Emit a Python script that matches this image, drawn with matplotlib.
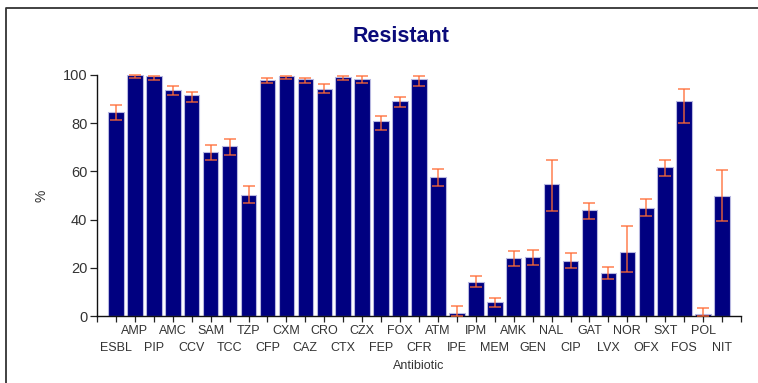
import matplotlib
matplotlib.use('Agg')
import matplotlib.pyplot as plt
from matplotlib.lines import Line2D
import matplotlib.transforms as mtransforms
import numpy as np

plt.rcParams['font.family'] = ['Liberation Sans Narrow', 'Liberation Sans', 'DejaVu Sans']

antibiotics = ['ESBL', 'AMP', 'PIP', 'AMC', 'CCV', 'SAM', 'TCC', 'TZP', 'CFP',
               'CXM', 'CAZ', 'CRO', 'CTX', 'CZX', 'FEP', 'FOX', 'CFR', 'ATM',
               'IPE', 'IPM', 'MEM', 'AMK', 'GEN', 'NAL', 'CIP', 'GAT', 'LVX',
               'NOR', 'OFX', 'SXT', 'FOS', 'POL', 'NIT']
resistant = [84.8, 99.9, 99.4, 93.6, 91.6, 68.2, 70.4, 50.3, 97.9,
             99.4, 98.5, 94.2, 99.0, 98.5, 80.8, 89.1, 98.5, 57.5,
             1.1, 14.1, 5.7, 23.9, 24.3, 54.6, 23.0, 43.8, 17.7,
             26.7, 44.8, 61.7, 89.1, 0.8, 49.9]
ci_low = [81.3, 98.6, 97.8, 91.7, 88.8, 64.6, 66.9, 46.9, 96.8,
          98.3, 96.8, 92.5, 97.8, 96.8, 77.2, 86.6, 95.4, 53.9,
          0.0, 11.9, 3.9, 20.7, 21.3, 43.7, 19.9, 40.4, 15.2,
          18.1, 41.4, 58.1, 79.9, 0.0, 39.4]
ci_high = [87.5, 99.9, 99.7, 95.6, 93.1, 71.1, 73.6, 53.9, 98.8,
           99.7, 98.9, 96.1, 99.4, 99.4, 83.0, 90.9, 99.4, 61.1,
           4.0, 16.7, 7.3, 27.0, 27.4, 64.7, 26.0, 47.0, 20.5,
           37.2, 48.4, 64.7, 94.1, 3.2, 60.4]

W, H = 758, 383
fig = plt.figure(figsize=(W / 100, H / 100), dpi=100)
ax = fig.add_axes([97 / W, 1 - 316 / H, (741 - 97) / W, (316 - 75) / H])

x = np.arange(len(antibiotics))
vals = np.array(resistant)
err = [vals - np.array(ci_low), np.array(ci_high) - vals]

ax.bar(x, vals, width=0.82, color='#000080', edgecolor='#b8b8e0',
       linewidth=0.8, zorder=2)
ax.errorbar(x, vals, yerr=err, fmt='none', ecolor='#ff6a33', alpha=0.85,
            elinewidth=1.1, capsize=4, capthick=1.1, zorder=3, clip_on=False)

ax.set_xlim(-1, 33)
ax.set_ylim(0, 100)
ax.set_xticks(np.arange(-1, 34))
ax.set_xticklabels([])
ax.set_yticks([0, 20, 40, 60, 80, 100])
ax.tick_params(axis='x', direction='out', length=4, width=0.9, color='#222222')
ax.tick_params(axis='y', direction='out', length=5, width=0.9, color='#222222',
               labelsize=10.5, labelcolor='#333333', pad=2)
for s in ['top', 'right']:
    ax.spines[s].set_visible(False)
for s in ['left', 'bottom']:
    ax.spines[s].set_color('#111111')
    ax.spines[s].set_linewidth(1.0)

# staggered category labels
trans = mtransforms.blended_transform_factory(ax.transData, ax.transAxes)
for i, name in enumerate(antibiotics):
    yoff = -32 if i % 2 == 0 else -15
    ax.annotate(name, xy=(i, 0), xycoords=trans, xytext=(0, yoff),
                textcoords='offset pixels', ha='center', va='center',
                fontsize=9, color='#333333')

ax.text(0.5, (316 - 366) / (316 - 75), 'Antibiotic', transform=ax.transAxes,
        ha='center', va='center', fontsize=9, color='#333333')
ax.text((42 - 97) / (741 - 97), 0.5, '%', transform=ax.transAxes,
        ha='center', va='center', rotation=90, fontsize=10, color='#333333')

fig.text(401 / W, 1 - 36 / H, 'Resistant', ha='center', va='center',
         fontsize=15.5, fontweight='bold', color='#0a0a7a')

# partial frame around the figure
fig.add_artist(Line2D([5.5 / W, 5.5 / W, 1.0], [0.0, 1 - 7.5 / H, 1 - 7.5 / H],
                      transform=fig.transFigure, color='#333333', linewidth=1.3))

fig.savefig('out.png', dpi=100)
